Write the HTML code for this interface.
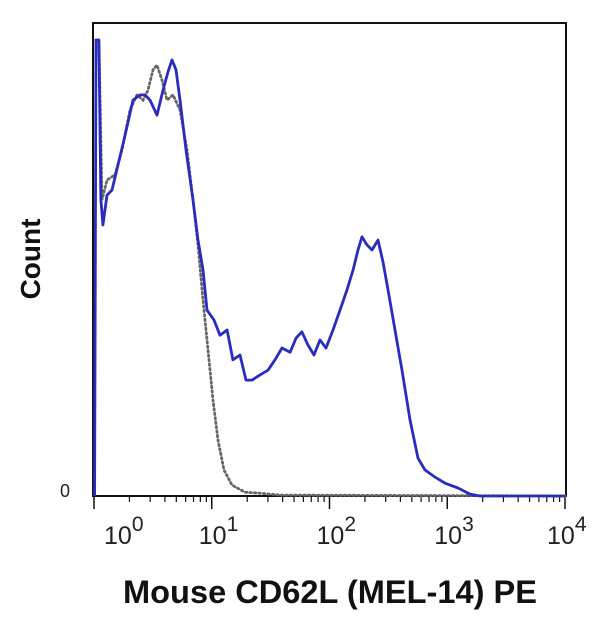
<!DOCTYPE html>
<html><head><meta charset="utf-8"><style>
body{margin:0;background:#fff}
text{font-family:"Liberation Sans",Arial,sans-serif}
</style></head><body>
<svg id="chart" width="600" height="630" viewBox="0 0 600 630" xmlns="http://www.w3.org/2000/svg">
<rect width="600" height="630" fill="#fff"/>
<g id="axes"></g>
<g id="series"></g>
<text transform="translate(40,259) rotate(-90)" text-anchor="middle" font-size="28" font-weight="bold" fill="#111">Count</text>
<text x="60" y="497" font-size="18" fill="#222">0</text>
<text x="330" y="603" text-anchor="middle" font-size="32" font-weight="bold" fill="#111" textLength="414" lengthAdjust="spacingAndGlyphs">Mouse CD62L (MEL-14) PE</text>
</svg>
<script>
const decades=[0,1,2,3,4];
const blueX=[0.005,0.017,0.042,0.059,0.076,0.110,0.153,0.204,0.255,0.331,0.391,0.433,0.476,0.535,0.586,0.628,0.662,0.696,0.730,0.781,0.841,0.883,0.926,0.960,1.019,1.070,1.130,1.180,1.240,1.291,1.342,1.410,1.478,1.537,1.597,1.665,1.716,1.766,1.817,1.868,1.919,1.970,2.030,2.089,2.149,2.200,2.242,2.276,2.318,2.361,2.412,2.454,2.497,2.556,2.616,2.684,2.752,2.811,2.896,2.981,3.091,3.193,3.278,4.0];
const blueY=[0,96.4,96.4,62.6,57.3,63.6,64.7,70.0,75.3,83.7,84.8,84.8,83.7,80.5,85.8,89.6,92.2,90.1,83.7,73.2,62.6,54.1,47.8,39.3,37.2,34.0,35.1,28.8,29.8,24.5,24.5,25.6,26.6,28.8,31.3,30.4,33.4,34.7,31.9,29.8,33.0,31.3,35.1,39.3,43.6,47.8,52.0,54.8,53.1,52.0,54.1,49.5,43.6,35.1,26.6,16.1,8.0,5.5,4.0,2.7,1.7,0.4,0,0];
const dotX=[0.017,0.042,0.068,0.110,0.178,0.238,0.306,0.365,0.416,0.459,0.501,0.535,0.577,0.620,0.671,0.730,0.790,0.841,0.883,0.926,0.968,1.011,1.053,1.104,1.172,1.282,1.410,1.580,4.0];
const dotY=[96.4,96.4,62.6,66.8,67.9,73.2,81.6,84.8,83.7,85.8,90.1,91.1,88.0,83.7,84.8,81.6,73.2,62.6,53.1,41.4,30.9,20.3,11.8,5.5,2.3,0.8,0.6,0.2,0];
const L=94,R=565,T=23,B=496;
const sx=v=>L+(v-0)/(4-0)*(R-L);
const sy=v=>B-v/100*(B-T);
const NS="http://www.w3.org/2000/svg";
const ax=document.getElementById('axes'),se=document.getElementById('series');
function mk(tag,attrs,parent){const e=document.createElementNS(NS,tag);for(const k in attrs)e.setAttribute(k,attrs[k]);parent.appendChild(e);return e;}
const frame=mk('rect',{x:L-1,y:T,width:R-L+2,height:B-T,fill:'none',stroke:'#111','stroke-width':2},ax);


decades.forEach(d=>{
  const t=mk('line',{x1:sx(d),x2:sx(d),y1:B,y2:B+13,stroke:'#111','stroke-width':1.5},ax);
  
  
  const lb=mk('text',{x:sx(d)+ (d==0?10:(d==4?-18:-13)),y:B+48,'font-size':25,fill:'#222'},ax);
  
  
  lb.textContent='10';
  const sp=mk('tspan',{dy:-13,'font-size':21},lb);sp.textContent=String(d);
  if(d<4){for(let m=2;m<=9;m++){const x=sx(d+Math.log10(m));
    const mt=mk('line',{x1:x,x2:x,y1:B,y2:B+6,stroke:'#111','stroke-width':1.2},ax);
    
    }}
});
function path(xs,ys){return xs.map((x,i)=>(i?'L':'M')+sx(x).toFixed(1)+','+sy(ys[i]).toFixed(1)).join(' ');}
const dp=mk('path',{d:path(dotX,dotY),fill:'none',stroke:'#666','stroke-width':2.8,'stroke-dasharray':'1.5 3','stroke-linecap':'round'},se);


const bp=mk('path',{d:path(blueX,blueY),fill:'none',stroke:'#2b2bbd','stroke-width':2.8,'stroke-linejoin':'round'},se);


</script>
</body></html>
